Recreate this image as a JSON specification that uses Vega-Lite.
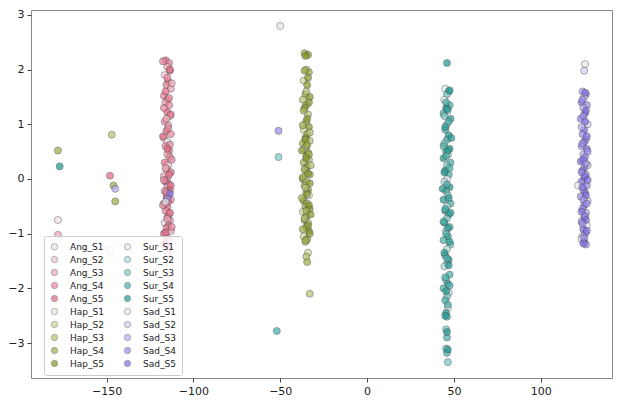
{
  "$schema": "https://vega.github.io/schema/vega-lite/v6.json",
  "width": 581,
  "height": 368,
  "autosize": {"type": "none"},
  "padding": {"left": 31, "top": 10, "right": 5, "bottom": 24},
  "background": "white",
  "config": {
    "font": "DejaVu Sans",
    "view": {"stroke": "#888", "strokeWidth": 1},
    "axis": {
      "domain": false,
      "grid": false,
      "ticks": true,
      "tickSize": 4,
      "tickColor": "#444",
      "labelFontSize": 11,
      "labelColor": "#222",
      "labelPadding": 3,
      "title": null
    }
  },
  "data": {
    "values": [
      {"x": -178, "y": 0.52, "c": "Hap_S4"},
      {"x": -177, "y": 0.23, "c": "Sur_S5"},
      {"x": -178, "y": -0.75, "c": "Ang_S1"},
      {"x": -178, "y": -1.02, "c": "Ang_S3"},
      {"x": -147, "y": 0.81, "c": "Hap_S3"},
      {"x": -148, "y": 0.06, "c": "Ang_S5"},
      {"x": -146, "y": -0.12, "c": "Hap_S4"},
      {"x": -145, "y": -0.18, "c": "Sad_S3"},
      {"x": -145, "y": -0.41, "c": "Hap_S4"},
      {"x": -148, "y": -1.3, "c": "Sad_S1"},
      {"x": -50, "y": 2.8, "c": "Sur_S1"},
      {"x": -51, "y": 0.88, "c": "Sad_S4"},
      {"x": -51, "y": 0.4, "c": "Sur_S3"},
      {"x": -52, "y": -2.78, "c": "Sur_S4"},

      {"x": -116, "y": 2.17, "c": "Ang_S5"},
      {"x": -114, "y": 2.12, "c": "Ang_S4"},
      {"x": -115, "y": 2.05, "c": "Ang_S3"},
      {"x": -113.5, "y": 1.98, "c": "Ang_S4"},
      {"x": -116.5, "y": 1.9, "c": "Ang_S2"},
      {"x": -114.5, "y": 1.78, "c": "Ang_S5"},
      {"x": -115.5, "y": 1.72, "c": "Ang_S4"},
      {"x": -113, "y": 1.65, "c": "Ang_S3"},
      {"x": -117, "y": 1.52, "c": "Ang_S4"},
      {"x": -115, "y": 1.45, "c": "Ang_S5"},
      {"x": -116, "y": 1.4, "c": "Ang_S3"},
      {"x": -114, "y": 1.35, "c": "Ang_S4"},
      {"x": -115, "y": 1.22, "c": "Ang_S5"},
      {"x": -113.5, "y": 1.15, "c": "Ang_S2"},
      {"x": -116.5, "y": 1.05, "c": "Ang_S4"},
      {"x": -114.5, "y": 0.98, "c": "Ang_S3"},
      {"x": -115.5, "y": 0.88, "c": "Ang_S5"},
      {"x": -113, "y": 0.82, "c": "Ang_S4"},
      {"x": -117, "y": 0.75, "c": "Ang_S3"},
      {"x": -115, "y": 0.68, "c": "Ang_S1"},
      {"x": -116, "y": 0.6, "c": "Ang_S4"},
      {"x": -114, "y": 0.52, "c": "Ang_S5"},
      {"x": -115, "y": 0.45, "c": "Ang_S3"},
      {"x": -113.5, "y": 0.4, "c": "Ang_S4"},
      {"x": -116.5, "y": 0.3, "c": "Ang_S5"},
      {"x": -114.5, "y": 0.25, "c": "Ang_S2"},
      {"x": -115.5, "y": 0.18, "c": "Ang_S4"},
      {"x": -113, "y": 0.12, "c": "Ang_S5"},
      {"x": -117, "y": 0.05, "c": "Ang_S3"},
      {"x": -115, "y": 0.0, "c": "Ang_S4"},
      {"x": -116, "y": -0.05, "c": "Ang_S5"},
      {"x": -114, "y": -0.1, "c": "Ang_S4"},
      {"x": -115, "y": -0.15, "c": "Ang_S3"},
      {"x": -113.5, "y": -0.2, "c": "Ang_S5"},
      {"x": -116.5, "y": -0.22, "c": "Ang_S4"},
      {"x": -114.5, "y": -0.28, "c": "Ang_S2"},
      {"x": -115.5, "y": -0.32, "c": "Ang_S5"},
      {"x": -113, "y": -0.38, "c": "Ang_S4"},
      {"x": -117, "y": -0.45, "c": "Ang_S3"},
      {"x": -115, "y": -0.52, "c": "Ang_S5"},
      {"x": -116, "y": -0.58, "c": "Ang_S4"},
      {"x": -114, "y": -0.65, "c": "Ang_S3"},
      {"x": -115, "y": -0.7, "c": "Ang_S5"},
      {"x": -113.5, "y": -0.76, "c": "Ang_S4"},
      {"x": -116.5, "y": -0.8, "c": "Ang_S1"},
      {"x": -114.5, "y": -0.85, "c": "Ang_S5"},
      {"x": -115.5, "y": -0.9, "c": "Ang_S4"},
      {"x": -113, "y": -0.95, "c": "Ang_S3"},
      {"x": -117, "y": -1.0, "c": "Ang_S5"},
      {"x": -115, "y": -1.08, "c": "Ang_S4"},
      {"x": -116, "y": -1.15, "c": "Ang_S3"},
      {"x": -114, "y": -1.25, "c": "Ang_S5"},
      {"x": -115, "y": -1.35, "c": "Ang_S4"},
      {"x": -113.5, "y": -1.45, "c": "Ang_S2"},
      {"x": -117.5, "y": 2.15, "c": "Ang_S4"},
      {"x": -113.5, "y": 2.0, "c": "Ang_S5"},
      {"x": -115, "y": 1.85, "c": "Ang_S4"},
      {"x": -112.5, "y": 1.75, "c": "Ang_S3"},
      {"x": -116, "y": 1.6, "c": "Ang_S5"},
      {"x": -114, "y": 1.48, "c": "Ang_S4"},
      {"x": -117, "y": 1.3, "c": "Ang_S4"},
      {"x": -113, "y": 1.18, "c": "Ang_S5"},
      {"x": -115.5, "y": 1.1, "c": "Ang_S3"},
      {"x": -114.5, "y": 0.93, "c": "Ang_S4"},
      {"x": -117.5, "y": 0.78, "c": "Ang_S5"},
      {"x": -113.5, "y": 0.63, "c": "Ang_S4"},
      {"x": -115, "y": 0.55, "c": "Ang_S5"},
      {"x": -112.5, "y": 0.35, "c": "Ang_S4"},
      {"x": -116, "y": 0.2, "c": "Ang_S3"},
      {"x": -114, "y": 0.08, "c": "Ang_S5"},
      {"x": -117, "y": -0.02, "c": "Ang_S4"},
      {"x": -113, "y": -0.12, "c": "Ang_S5"},
      {"x": -115.5, "y": -0.25, "c": "Ang_S4"},
      {"x": -114.5, "y": -0.42, "c": "Ang_S5"},
      {"x": -117.5, "y": -0.48, "c": "Ang_S4"},
      {"x": -113.5, "y": -0.62, "c": "Ang_S5"},
      {"x": -115, "y": -0.73, "c": "Ang_S3"},
      {"x": -112.5, "y": -0.88, "c": "Ang_S4"},
      {"x": -116, "y": -0.98, "c": "Ang_S5"},
      {"x": -114, "y": -1.12, "c": "Ang_S4"},
      {"x": -117, "y": -1.2, "c": "Ang_S5"},
      {"x": -113.5, "y": -0.27, "c": "Sad_S5"},
      {"x": -115, "y": -0.36, "c": "Sad_S4"},
      {"x": -116, "y": -0.42, "c": "Sad_S1"},

      {"x": -36, "y": 2.3, "c": "Hap_S4"},
      {"x": -34, "y": 2.27, "c": "Hap_S5"},
      {"x": -35, "y": 2.0, "c": "Hap_S3"},
      {"x": -33.5, "y": 1.95, "c": "Hap_S4"},
      {"x": -36.5, "y": 1.8, "c": "Hap_S2"},
      {"x": -34.5, "y": 1.72, "c": "Hap_S5"},
      {"x": -35.5, "y": 1.55, "c": "Hap_S4"},
      {"x": -33, "y": 1.5, "c": "Hap_S5"},
      {"x": -37, "y": 1.45, "c": "Hap_S3"},
      {"x": -35, "y": 1.35, "c": "Hap_S4"},
      {"x": -36, "y": 1.3, "c": "Hap_S5"},
      {"x": -34, "y": 1.18, "c": "Hap_S3"},
      {"x": -35, "y": 1.05, "c": "Hap_S4"},
      {"x": -33.5, "y": 0.95, "c": "Hap_S5"},
      {"x": -36.5, "y": 0.9, "c": "Hap_S2"},
      {"x": -34.5, "y": 0.82, "c": "Hap_S4"},
      {"x": -35.5, "y": 0.75, "c": "Hap_S5"},
      {"x": -33, "y": 0.7, "c": "Hap_S3"},
      {"x": -37, "y": 0.65, "c": "Hap_S4"},
      {"x": -35, "y": 0.6, "c": "Hap_S5"},
      {"x": -36, "y": 0.55, "c": "Hap_S1"},
      {"x": -34, "y": 0.48, "c": "Hap_S4"},
      {"x": -35, "y": 0.42, "c": "Hap_S5"},
      {"x": -33.5, "y": 0.35, "c": "Hap_S3"},
      {"x": -36.5, "y": 0.3, "c": "Hap_S4"},
      {"x": -34.5, "y": 0.22, "c": "Hap_S5"},
      {"x": -35.5, "y": 0.15, "c": "Hap_S2"},
      {"x": -33, "y": 0.08, "c": "Hap_S4"},
      {"x": -37, "y": 0.0, "c": "Hap_S5"},
      {"x": -35, "y": -0.05, "c": "Hap_S3"},
      {"x": -36, "y": -0.12, "c": "Hap_S4"},
      {"x": -34, "y": -0.2, "c": "Hap_S5"},
      {"x": -35, "y": -0.25, "c": "Hap_S4"},
      {"x": -33.5, "y": -0.3, "c": "Hap_S1"},
      {"x": -36.5, "y": -0.4, "c": "Hap_S5"},
      {"x": -34.5, "y": -0.45, "c": "Hap_S3"},
      {"x": -35.5, "y": -0.5, "c": "Hap_S4"},
      {"x": -33, "y": -0.55, "c": "Hap_S5"},
      {"x": -37, "y": -0.6, "c": "Hap_S2"},
      {"x": -35, "y": -0.68, "c": "Hap_S4"},
      {"x": -36, "y": -0.75, "c": "Hap_S5"},
      {"x": -34, "y": -0.8, "c": "Hap_S3"},
      {"x": -35, "y": -0.88, "c": "Hap_S4"},
      {"x": -33.5, "y": -0.95, "c": "Hap_S5"},
      {"x": -36.5, "y": -1.05, "c": "Hap_S2"},
      {"x": -34.5, "y": -1.1, "c": "Hap_S4"},
      {"x": -35.5, "y": -1.15, "c": "Hap_S3"},
      {"x": -34, "y": -1.35, "c": "Hap_S2"},
      {"x": -35, "y": -1.42, "c": "Hap_S3"},
      {"x": -34.5, "y": -1.52, "c": "Hap_S4"},
      {"x": -33, "y": -2.1, "c": "Hap_S3"},
      {"x": -35.5, "y": 2.25, "c": "Hap_S5"},
      {"x": -36, "y": 1.98, "c": "Hap_S4"},
      {"x": -34, "y": 1.85, "c": "Hap_S5"},
      {"x": -35, "y": 1.6, "c": "Hap_S3"},
      {"x": -33.5, "y": 1.4, "c": "Hap_S5"},
      {"x": -36.5, "y": 1.25, "c": "Hap_S4"},
      {"x": -34.5, "y": 1.1, "c": "Hap_S5"},
      {"x": -37, "y": 0.98, "c": "Hap_S4"},
      {"x": -33, "y": 0.85, "c": "Hap_S3"},
      {"x": -35.5, "y": 0.72, "c": "Hap_S5"},
      {"x": -34.5, "y": 0.62, "c": "Hap_S4"},
      {"x": -37.5, "y": 0.52, "c": "Hap_S5"},
      {"x": -33.5, "y": 0.45, "c": "Hap_S4"},
      {"x": -35, "y": 0.38, "c": "Hap_S5"},
      {"x": -32.5, "y": 0.25, "c": "Hap_S3"},
      {"x": -36, "y": 0.18, "c": "Hap_S4"},
      {"x": -34, "y": 0.1, "c": "Hap_S5"},
      {"x": -37, "y": 0.03, "c": "Hap_S4"},
      {"x": -33, "y": -0.08, "c": "Hap_S5"},
      {"x": -35.5, "y": -0.16, "c": "Hap_S3"},
      {"x": -34.5, "y": -0.28, "c": "Hap_S5"},
      {"x": -37.5, "y": -0.35, "c": "Hap_S4"},
      {"x": -33.5, "y": -0.48, "c": "Hap_S5"},
      {"x": -35, "y": -0.58, "c": "Hap_S4"},
      {"x": -32.5, "y": -0.65, "c": "Hap_S5"},
      {"x": -36, "y": -0.72, "c": "Hap_S3"},
      {"x": -34, "y": -0.85, "c": "Hap_S5"},
      {"x": -37, "y": -0.92, "c": "Hap_S4"},
      {"x": -33, "y": -1.0, "c": "Hap_S5"},
      {"x": -35.5, "y": -1.12, "c": "Hap_S4"},

      {"x": 46, "y": 2.12, "c": "Sur_S5"},
      {"x": 45, "y": 1.65, "c": "Sur_S1"},
      {"x": 47, "y": 1.6, "c": "Sur_S4"},
      {"x": 46, "y": 1.55, "c": "Sur_S3"},
      {"x": 44.5, "y": 1.45, "c": "Sur_S1"},
      {"x": 47.5, "y": 1.35, "c": "Sur_S4"},
      {"x": 45.5, "y": 1.3, "c": "Sur_S5"},
      {"x": 46.5, "y": 1.25, "c": "Sur_S3"},
      {"x": 44, "y": 1.2, "c": "Sur_S4"},
      {"x": 48, "y": 1.1, "c": "Sur_S5"},
      {"x": 46, "y": 1.0, "c": "Sur_S2"},
      {"x": 45, "y": 0.9, "c": "Sur_S4"},
      {"x": 47, "y": 0.8, "c": "Sur_S5"},
      {"x": 46, "y": 0.72, "c": "Sur_S4"},
      {"x": 44.5, "y": 0.65, "c": "Sur_S3"},
      {"x": 47.5, "y": 0.55, "c": "Sur_S5"},
      {"x": 45.5, "y": 0.5, "c": "Sur_S4"},
      {"x": 46.5, "y": 0.45, "c": "Sur_S2"},
      {"x": 44, "y": 0.38, "c": "Sur_S5"},
      {"x": 48, "y": 0.3, "c": "Sur_S4"},
      {"x": 46, "y": 0.25, "c": "Sur_S3"},
      {"x": 45, "y": 0.15, "c": "Sur_S5"},
      {"x": 47, "y": 0.08, "c": "Sur_S4"},
      {"x": 46, "y": 0.0, "c": "Sur_S1"},
      {"x": 44.5, "y": -0.05, "c": "Sur_S2"},
      {"x": 47.5, "y": -0.15, "c": "Sur_S5"},
      {"x": 45.5, "y": -0.22, "c": "Sur_S4"},
      {"x": 46.5, "y": -0.3, "c": "Sur_S3"},
      {"x": 44, "y": -0.38, "c": "Sur_S5"},
      {"x": 48, "y": -0.45, "c": "Sur_S4"},
      {"x": 46, "y": -0.5, "c": "Sur_S2"},
      {"x": 45, "y": -0.58, "c": "Sur_S5"},
      {"x": 47, "y": -0.65, "c": "Sur_S4"},
      {"x": 46, "y": -0.72, "c": "Sur_S3"},
      {"x": 44.5, "y": -0.8, "c": "Sur_S5"},
      {"x": 47.5, "y": -0.88, "c": "Sur_S4"},
      {"x": 45.5, "y": -0.95, "c": "Sur_S1"},
      {"x": 46.5, "y": -1.05, "c": "Sur_S5"},
      {"x": 44, "y": -1.12, "c": "Sur_S4"},
      {"x": 48, "y": -1.2, "c": "Sur_S3"},
      {"x": 46, "y": -1.28, "c": "Sur_S2"},
      {"x": 45, "y": -1.4, "c": "Sur_S4"},
      {"x": 47, "y": -1.48, "c": "Sur_S5"},
      {"x": 46, "y": -1.55, "c": "Sur_S3"},
      {"x": 44.5, "y": -1.6, "c": "Sur_S2"},
      {"x": 47.5, "y": -1.75, "c": "Sur_S4"},
      {"x": 45.5, "y": -1.85, "c": "Sur_S3"},
      {"x": 46.5, "y": -1.92, "c": "Sur_S5"},
      {"x": 44, "y": -2.0, "c": "Sur_S4"},
      {"x": 47, "y": -2.08, "c": "Sur_S2"},
      {"x": 46, "y": -2.15, "c": "Sur_S3"},
      {"x": 45, "y": -2.22, "c": "Sur_S4"},
      {"x": 46.5, "y": -2.35, "c": "Sur_S1"},
      {"x": 45.5, "y": -2.45, "c": "Sur_S5"},
      {"x": 46, "y": -2.52, "c": "Sur_S4"},
      {"x": 45.5, "y": -2.75, "c": "Sur_S3"},
      {"x": 46, "y": -2.9, "c": "Sur_S4"},
      {"x": 45.5, "y": -3.1, "c": "Sur_S3"},
      {"x": 46, "y": -3.18, "c": "Sur_S4"},
      {"x": 46.5, "y": -3.35, "c": "Sur_S3"},
      {"x": 47.5, "y": 1.62, "c": "Sur_S5"},
      {"x": 45.5, "y": 1.4, "c": "Sur_S4"},
      {"x": 46, "y": 1.28, "c": "Sur_S5"},
      {"x": 44.5, "y": 1.15, "c": "Sur_S3"},
      {"x": 47, "y": 1.05, "c": "Sur_S4"},
      {"x": 45, "y": 0.95, "c": "Sur_S5"},
      {"x": 48.5, "y": 0.75, "c": "Sur_S5"},
      {"x": 44, "y": 0.6, "c": "Sur_S4"},
      {"x": 46.5, "y": 0.52, "c": "Sur_S5"},
      {"x": 45.5, "y": 0.42, "c": "Sur_S4"},
      {"x": 47.5, "y": 0.2, "c": "Sur_S4"},
      {"x": 44.5, "y": 0.12, "c": "Sur_S5"},
      {"x": 46, "y": -0.1, "c": "Sur_S4"},
      {"x": 43.5, "y": -0.18, "c": "Sur_S5"},
      {"x": 47, "y": -0.35, "c": "Sur_S5"},
      {"x": 45, "y": -0.55, "c": "Sur_S4"},
      {"x": 48, "y": -0.62, "c": "Sur_S5"},
      {"x": 44, "y": -0.78, "c": "Sur_S4"},
      {"x": 46.5, "y": -0.9, "c": "Sur_S5"},
      {"x": 45.5, "y": -1.0, "c": "Sur_S4"},
      {"x": 47.5, "y": -1.15, "c": "Sur_S5"},
      {"x": 44.5, "y": -1.35, "c": "Sur_S5"},
      {"x": 46, "y": -1.45, "c": "Sur_S4"},
      {"x": 47, "y": -1.58, "c": "Sur_S5"},
      {"x": 45, "y": -1.8, "c": "Sur_S4"},
      {"x": 47.5, "y": -1.95, "c": "Sur_S4"},
      {"x": 45.5, "y": -2.05, "c": "Sur_S5"},
      {"x": 46.5, "y": -2.3, "c": "Sur_S4"},
      {"x": 45, "y": -2.5, "c": "Sur_S5"},
      {"x": 46, "y": -2.8, "c": "Sur_S5"},
      {"x": 46.5, "y": -3.12, "c": "Sur_S5"},

      {"x": 125.5, "y": 2.1, "c": "Sad_S1"},
      {"x": 125, "y": 1.98, "c": "Sad_S2"},
      {"x": 124, "y": 1.6, "c": "Sad_S3"},
      {"x": 126, "y": 1.55, "c": "Sad_S4"},
      {"x": 125, "y": 1.5, "c": "Sad_S2"},
      {"x": 123.5, "y": 1.4, "c": "Sad_S5"},
      {"x": 126.5, "y": 1.35, "c": "Sad_S4"},
      {"x": 124.5, "y": 1.3, "c": "Sad_S3"},
      {"x": 125.5, "y": 1.2, "c": "Sad_S5"},
      {"x": 123, "y": 1.1, "c": "Sad_S4"},
      {"x": 127, "y": 1.0, "c": "Sad_S2"},
      {"x": 125, "y": 0.9, "c": "Sad_S5"},
      {"x": 124, "y": 0.82, "c": "Sad_S4"},
      {"x": 126, "y": 0.72, "c": "Sad_S3"},
      {"x": 125, "y": 0.68, "c": "Sad_S5"},
      {"x": 123.5, "y": 0.6, "c": "Sad_S4"},
      {"x": 126.5, "y": 0.55, "c": "Sad_S5"},
      {"x": 124.5, "y": 0.45, "c": "Sad_S3"},
      {"x": 125.5, "y": 0.4, "c": "Sad_S4"},
      {"x": 123, "y": 0.32, "c": "Sad_S5"},
      {"x": 127, "y": 0.25, "c": "Sad_S2"},
      {"x": 125, "y": 0.2, "c": "Sad_S4"},
      {"x": 124, "y": 0.15, "c": "Sad_S5"},
      {"x": 126, "y": 0.08, "c": "Sad_S3"},
      {"x": 125, "y": 0.02, "c": "Sad_S4"},
      {"x": 123.5, "y": -0.05, "c": "Sad_S5"},
      {"x": 126.5, "y": -0.12, "c": "Sad_S4"},
      {"x": 124.5, "y": -0.2, "c": "Sad_S3"},
      {"x": 125.5, "y": -0.25, "c": "Sad_S5"},
      {"x": 123, "y": -0.32, "c": "Sad_S4"},
      {"x": 127, "y": -0.4, "c": "Sad_S2"},
      {"x": 125, "y": -0.48, "c": "Sad_S5"},
      {"x": 124, "y": -0.55, "c": "Sad_S4"},
      {"x": 126, "y": -0.62, "c": "Sad_S3"},
      {"x": 125, "y": -0.7, "c": "Sad_S5"},
      {"x": 123.5, "y": -0.78, "c": "Sad_S4"},
      {"x": 126.5, "y": -0.85, "c": "Sad_S1"},
      {"x": 124.5, "y": -0.92, "c": "Sad_S5"},
      {"x": 125.5, "y": -1.0, "c": "Sad_S4"},
      {"x": 124, "y": -1.05, "c": "Sad_S3"},
      {"x": 123.5, "y": -1.1, "c": "Sad_S1"},
      {"x": 125, "y": -1.15, "c": "Sad_S5"},
      {"x": 126, "y": -1.2, "c": "Sad_S4"},
      {"x": 121.5, "y": -0.12, "c": "Sad_S1"},
      {"x": 125.5, "y": 1.58, "c": "Sad_S5"},
      {"x": 124, "y": 1.45, "c": "Sad_S4"},
      {"x": 126, "y": 1.25, "c": "Sad_S5"},
      {"x": 124.5, "y": 1.15, "c": "Sad_S4"},
      {"x": 125.5, "y": 1.05, "c": "Sad_S5"},
      {"x": 123.5, "y": 0.95, "c": "Sad_S3"},
      {"x": 126.5, "y": 0.78, "c": "Sad_S5"},
      {"x": 124, "y": 0.65, "c": "Sad_S4"},
      {"x": 127, "y": 0.5, "c": "Sad_S4"},
      {"x": 124.5, "y": 0.35, "c": "Sad_S5"},
      {"x": 126, "y": 0.28, "c": "Sad_S4"},
      {"x": 123.5, "y": 0.12, "c": "Sad_S4"},
      {"x": 125.5, "y": 0.05, "c": "Sad_S5"},
      {"x": 127, "y": -0.02, "c": "Sad_S5"},
      {"x": 124, "y": -0.15, "c": "Sad_S5"},
      {"x": 126, "y": -0.3, "c": "Sad_S5"},
      {"x": 124.5, "y": -0.38, "c": "Sad_S4"},
      {"x": 126.5, "y": -0.45, "c": "Sad_S4"},
      {"x": 123.5, "y": -0.6, "c": "Sad_S5"},
      {"x": 125.5, "y": -0.68, "c": "Sad_S4"},
      {"x": 126, "y": -0.75, "c": "Sad_S5"},
      {"x": 124, "y": -0.82, "c": "Sad_S4"},
      {"x": 126.5, "y": -0.95, "c": "Sad_S5"},
      {"x": 125, "y": -1.08, "c": "Sad_S4"},
      {"x": 124.5, "y": -1.18, "c": "Sad_S5"}
    ]
  },
  "mark": {
    "type": "point",
    "filled": true,
    "size": 50,
    "stroke": "#444",
    "strokeWidth": 0.6,
    "opacity": 0.72
  },
  "encoding": {
    "x": {
      "field": "x",
      "type": "quantitative",
      "scale": {"domain": [-193.5, 141], "nice": false, "zero": false},
      "axis": {"values": [-150, -100, -50, 0, 50, 100], "format": "d"}
    },
    "y": {
      "field": "y",
      "type": "quantitative",
      "scale": {"domain": [-3.64, 3.09], "nice": false, "zero": false},
      "axis": {"values": [-3, -2, -1, 0, 1, 2, 3], "format": "d"}
    },
    "color": {
      "field": "c",
      "type": "nominal",
      "scale": {
        "domain": ["Ang_S1", "Ang_S2", "Ang_S3", "Ang_S4", "Ang_S5", "Hap_S1", "Hap_S2", "Hap_S3", "Hap_S4", "Hap_S5", "Sur_S1", "Sur_S2", "Sur_S3", "Sur_S4", "Sur_S5", "Sad_S1", "Sad_S2", "Sad_S3", "Sad_S4", "Sad_S5"],
        "range": ["#efe4e9", "#f3c6d1", "#efa6b7", "#ea86a0", "#e56a88", "#e6e9d2", "#cfd89c", "#b5c270", "#9cb046", "#86992a", "#e1ecec", "#a9dad8", "#79c8c3", "#45b0a9", "#229b93", "#e9e6f1", "#d3cef2", "#b6adf0", "#998eeb", "#8070e6"]
      },
      "legend": {
        "title": null,
        "orient": "none",
        "legendX": 13,
        "legendY": 226,
        "columns": 2,
        "columnPadding": 19,
        "rowPadding": 3,
        "padding": 6,
        "labelFontSize": 9,
        "labelColor": "#222",
        "labelOffset": 11,
        "symbolSize": 40,
        "symbolStrokeColor": "#555",
        "symbolStrokeWidth": 0.6,
        "symbolOpacity": 0.7,
        "fillColor": "rgba(255,255,255,0.85)",
        "strokeColor": "#ccc",
        "cornerRadius": 2
      }
    }
  }
}
